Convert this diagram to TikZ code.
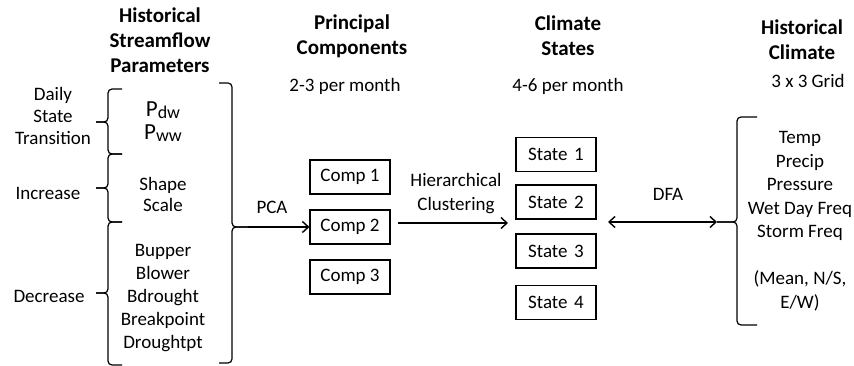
\documentclass[tikz,border=0pt]{standalone}
\usepackage{fontspec}
\setmainfont{Carlito}
\usetikzlibrary{arrows.meta}
\begin{document}
\begin{tikzpicture}[x=1pt,y=-1pt,
  txt/.style={inner sep=0pt,align=center,font=\fontsize{19}{23}\selectfont},
  ttl/.style={inner sep=0pt,align=center,font=\fontsize{21}{25}\selectfont\bfseries},
  box/.style={draw,line width=1.1pt,minimum width=80pt,minimum height=34pt,inner sep=0pt,font=\fontsize{19}{23}\selectfont},
  brc/.style={line width=1.2pt,rounded corners=4pt},
  arr/.style={line width=1.4pt,-{Straight Barb[length=6pt,width=11pt,line width=1.4pt]}},
  darr/.style={line width=1.4pt,{Straight Barb[length=6pt,width=11pt,line width=1.4pt]}-{Straight Barb[length=6pt,width=11pt,line width=1.4pt]}}]
\useasboundingbox (0,0) rectangle (854,366);
\fill[white] (0,0) rectangle (854,366);

% titles
\node[ttl] (t1) at (160,40) {Historical\\Streamflow\\Parameters};
\node[ttl] (t2) at (352,36) {Principal\\Components};
\node[txt] (s2) at (345,86) {2-3 per month};
\node[ttl] (t3) at (568,36) {Climate\\States};
\node[txt] (s3) at (568,86) {4-6 per month};
\node[ttl] (t4) at (802,40) {Historical\\Climate};
\node[txt] (s4) at (808,81) {3 x 3 Grid};

% left labels
\node[txt,font=\fontsize{19}{22}\selectfont] (daily) at (53,116) {Daily\\State\\Transition};
\node[txt] (inc) at (48,193) {Increase};
\node[txt] (dec) at (49,296) {Decrease};

% parameters
\node[inner sep=0pt,font=\fontsize{23}{26}\selectfont] (pdw) at (163,110) {P\raisebox{-2pt}{\fontsize{18}{20}\selectfont dw}};
\node[inner sep=0pt,font=\fontsize{23}{26}\selectfont] (pww) at (163,133) {P\raisebox{-2pt}{\fontsize{18}{20}\selectfont ww}};
\node[txt,font=\fontsize{19}{21}\selectfont] (shape) at (163,194) {Shape\\Scale};
\node[txt] (bpar) at (163,298) {Bupper\\Blower\\Bdrought\\Breakpoint\\Droughtpt};

% left braces
\draw[brc] (122,89) -| (108,122) -- (96,122);
\draw[brc] (96,122) -- (108,122) |- (122,154);
\draw[brc] (122,154) -| (108,188) -- (96,188);
\draw[brc] (96,188) -- (108,188) |- (122,222);
\draw[brc] (122,222) -| (108,293) -- (96,293);
\draw[brc] (96,293) -- (108,293) |- (122,365);

% right closing brace
\coordinate (ptip) at (248,227);
\draw[brc] (219,83) -| (232,227) -- (ptip);
\draw[brc] (ptip) -- (232,227) |- (219,363);

% components
\node[box] (c1) at (350,177) {Comp 1};
\node[box] (c2) at (350,227) {Comp 2};
\node[box] (c3) at (350,277) {Comp 3};

\node[txt] (pca) at (272,207) {PCA};
\draw[arr] (ptip) -- (c2.west);

% states
\node[box] (st1) at (556,154.5) {State\hspace{0.35em}1};
\node[box] (st2) at (556,202) {State\hspace{0.35em}2};
\node[box] (st3) at (556,251) {State\hspace{0.35em}3};
\node[box] (st4) at (556,302.5) {State\hspace{0.35em}4};

\node[txt,font=\fontsize{19}{24}\selectfont] (hier) at (456,194) {Hierarchical\\Clustering};
\coordinate (hA) at (398,223);
\coordinate (hB) at (508,223);
\draw[arr] (hA) -- (hB);

% right brace
\coordinate (rtip) at (717,222);
\draw[brc] (757,117) -| (737,222) -- (rtip);
\draw[brc] (rtip) -- (737,222) |- (757,325);

\node[txt] (dfa) at (668,194) {DFA};
\coordinate (dA) at (608,222);
\draw[darr] (dA) -- (rtip);

% climate variables
\node[txt,font=\fontsize{19}{23.5}\selectfont] (vars) at (800,186) {Temp\\Precip\\Pressure\\Wet Day Freq\\Storm Freq};
\node[txt,font=\fontsize{19}{24}\selectfont] (mean) at (800,291) {(Mean, N/S,\\E/W)};
\end{tikzpicture}
\end{document}
